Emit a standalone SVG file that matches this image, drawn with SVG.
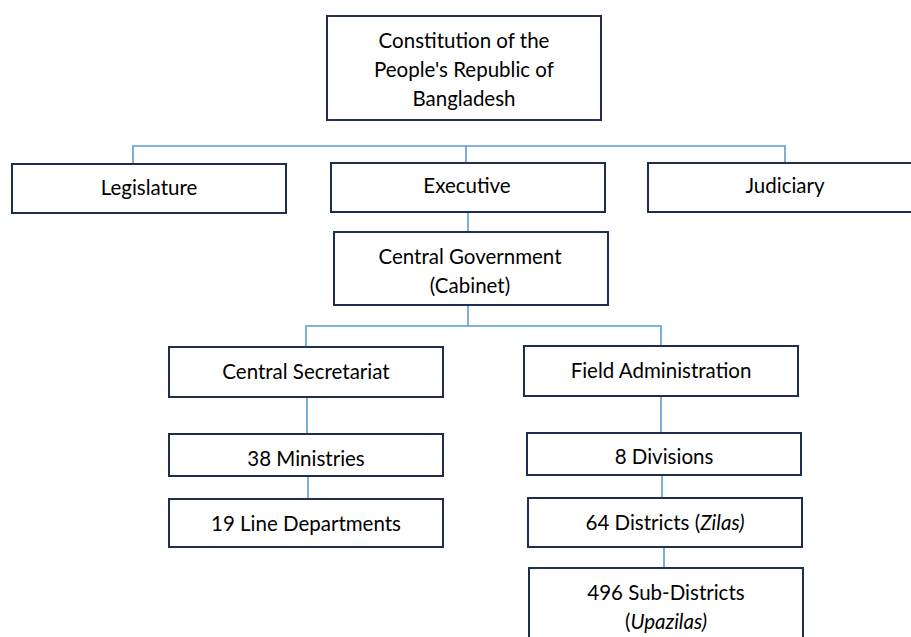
<svg xmlns="http://www.w3.org/2000/svg" width="911" height="637" viewBox="0 0 911 637">
<style>
.box{fill:#fff;stroke:#1f2d4e;stroke-width:2}
.t{font-family:Lato,"Open Sans",sans-serif;font-size:20.5px;fill:#000;text-anchor:middle;dominant-baseline:central}
.c{fill:none;stroke:#5b9bd5;stroke-width:1.6}
</style>
<rect width="911" height="637" fill="#fff"/>
<g id="connectors">
<path class="c" d="M133 164V146H785V163M466 146V163"/>
<path class="c" d="M468 212V232"/>
<path class="c" d="M468 305V326M306 347V326H661V346"/>
<path class="c" d="M307 397V434M661 396V433"/>
<path class="c" d="M308 477V499M662 476V498M664 547V568"/>
</g>
<g id="constitution"><rect class="box" x="327" y="16" width="274" height="104"/>
<text class="t" x="464" y="40">Constitution of the</text>
<text class="t" x="464" y="69">People's Republic of</text>
<text class="t" x="464" y="98">Bangladesh</text></g>
<g id="legislature"><rect class="box" x="12" y="164" width="274" height="49"/><text class="t" x="149" y="187">Legislature</text></g>
<g id="executive"><rect class="box" x="331" y="163" width="274" height="49"/><text class="t" x="467" y="185">Executive</text></g>
<g id="judiciary"><rect class="box" x="648" y="163" width="274" height="49"/><text class="t" x="785" y="185">Judiciary</text></g>
<g id="central-government"><rect class="box" x="334" y="232" width="274" height="73"/>
<text class="t" x="470" y="256">Central Government</text>
<text class="t" x="470" y="285">(Cabinet)</text></g>
<g id="central-secretariat"><rect class="box" x="169" y="347" width="274" height="50"/><text class="t" x="306" y="371">Central Secretariat</text></g>
<g id="field-administration"><rect class="box" x="524" y="346" width="274" height="50"/><text class="t" x="661" y="370">Field Administration</text></g>
<g id="ministries"><rect class="box" x="169" y="434" width="274" height="42"/><text class="t" x="306" y="458">38 Ministries</text></g>
<g id="line-departments"><rect class="box" x="169" y="499" width="274" height="48"/><text class="t" x="306" y="523">19 Line Departments</text></g>
<g id="divisions"><rect class="box" x="527" y="433" width="274" height="42"/><text class="t" x="664" y="456">8 Divisions</text></g>
<g id="districts"><rect class="box" x="528" y="498" width="274" height="49"/><text class="t" x="665" y="522">64 Districts (<tspan font-style="italic">Zilas)</tspan></text></g>
<g id="sub-districts"><rect class="box" x="529" y="568" width="274" height="80"/>
<text class="t" x="666" y="592">496 Sub-Districts</text>
<text class="t" x="666" y="621">(<tspan font-style="italic">Upazilas)</tspan></text></g>
</svg>
